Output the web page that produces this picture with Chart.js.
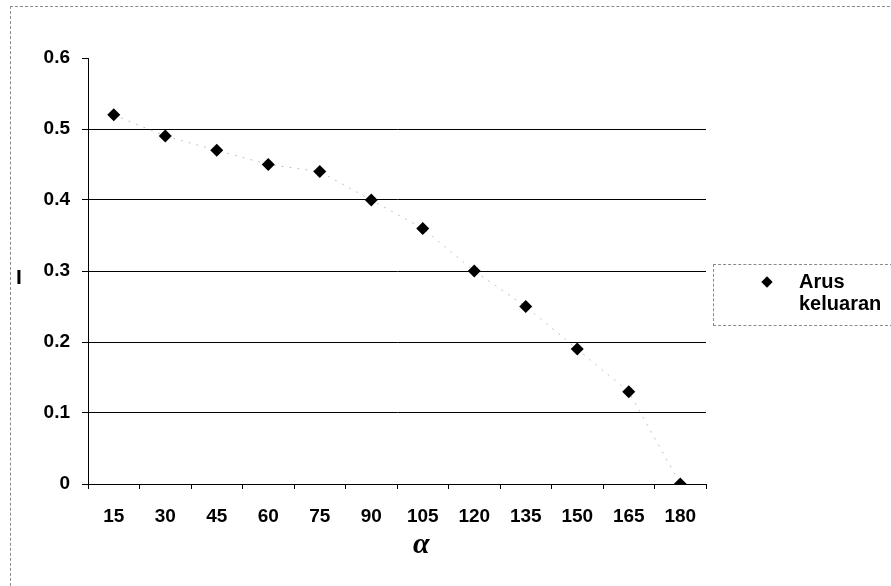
<!DOCTYPE html>
<html>
<head>
<meta charset="utf-8">
<script src="https://cdn.jsdelivr.net/npm/chart.js@4/dist/chart.umd.min.js"></script>
<style>
  html, body { margin: 0; padding: 0; background: #fff; }
  #wrap { position: relative; width: 891px; height: 586px; overflow: hidden; }
  #frame { position: absolute; left: 10px; top: 6px; width: 895px; height: 600px; border: 1px dashed #8a8a8a; box-sizing: border-box; }
  canvas { position: absolute; left: 0; top: 0; }
  .ytitle { position: absolute; left: 16px; top: 265px; font: bold 21px "Liberation Sans", Arial, sans-serif; color: #000; }
  .xtitle { position: absolute; left: 413px; top: 526px; font: italic bold 30px "Liberation Serif", "Times New Roman", serif; color: #000; }
  #legend { position: absolute; left: 713px; top: 264px; width: 180px; height: 62px; border: 1px dashed #8a8a8a; box-sizing: border-box; font: bold 20px "Liberation Sans", Arial, sans-serif; color: #000; }
  #legend .mark { position: absolute; left: 49px; top: 13px; width: 8px; height: 8px; background: #000; transform: rotate(45deg); }
  #legend .txt { position: absolute; left: 85px; top: 5px; line-height: 22px; }
</style>
</head>
<body>
<div id="wrap">
  <div id="frame"></div>
  <canvas id="c" width="891" height="586"></canvas>
  <div class="ytitle">I</div>
  <div class="xtitle">α</div>
  <div id="legend"><div class="mark"></div><div class="txt">Arus<br>keluaran</div></div>
</div>
<script>
// firing angle (degrees) and output current
const angles = ['15', '30', '45', '60', '75', '90', '105', '120', '135', '150', '165', '180'];
const arusKeluaran = [0.52, 0.49, 0.47, 0.45, 0.44, 0.40, 0.36, 0.30, 0.25, 0.19, 0.13, 0.00];
const yTicks = [0, 0.1, 0.2, 0.3, 0.4, 0.5, 0.6];

const tickFont = { family: '"Liberation Sans", Arial, sans-serif', size: 19, weight: 'bold' };

new Chart(document.getElementById('c'), {
  type: 'line',
  data: {
    labels: angles,
    datasets: [{
      label: 'Arus keluaran',
      data: arusKeluaran,
      borderColor: '#c0c0c0',
      borderWidth: 1,
      borderDash: [2, 6],
      pointStyle: 'rectRot',
      pointRadius: 6.5,
      pointBackgroundColor: '#000',
      pointBorderColor: '#000',
      pointBorderWidth: 0,
      tension: 0
    }]
  },
  options: {
    responsive: false,
    animation: false,
    layout: { padding: { left: 10, top: 58, right: 185, bottom: 0 } },
    plugins: { legend: { display: false }, tooltip: { enabled: false } },
    scales: {
      x: {
        type: 'category',
        offset: true,
        afterFit: s => { s.height = 102; },
        grid: { display: true, drawOnChartArea: false, offset: true, tickLength: 5, color: '#000', tickColor: '#000' },
        border: { display: true, color: '#000', width: 1 },
        ticks: { color: '#000', font: tickFont, padding: 16, maxRotation: 0, autoSkip: false }
      },
      y: {
        min: 0,
        max: 0.6,
        afterFit: s => { s.width = 78; },
        afterBuildTicks: s => { s.ticks = yTicks.map(v => ({ value: v })); },
        grid: {
          color: c => (c.tick && c.tick.value >= 0.6 ? 'rgba(0,0,0,0)' : '#000'),
          tickColor: '#000',
          tickLength: 6,
          lineWidth: 1
        },
        border: { display: true, color: '#000', width: 1 },
        ticks: { color: '#000', font: tickFont, padding: 12, callback: v => String(Math.round(v * 10) / 10) }
      }
    }
  }
});
</script>
</body>
</html>
